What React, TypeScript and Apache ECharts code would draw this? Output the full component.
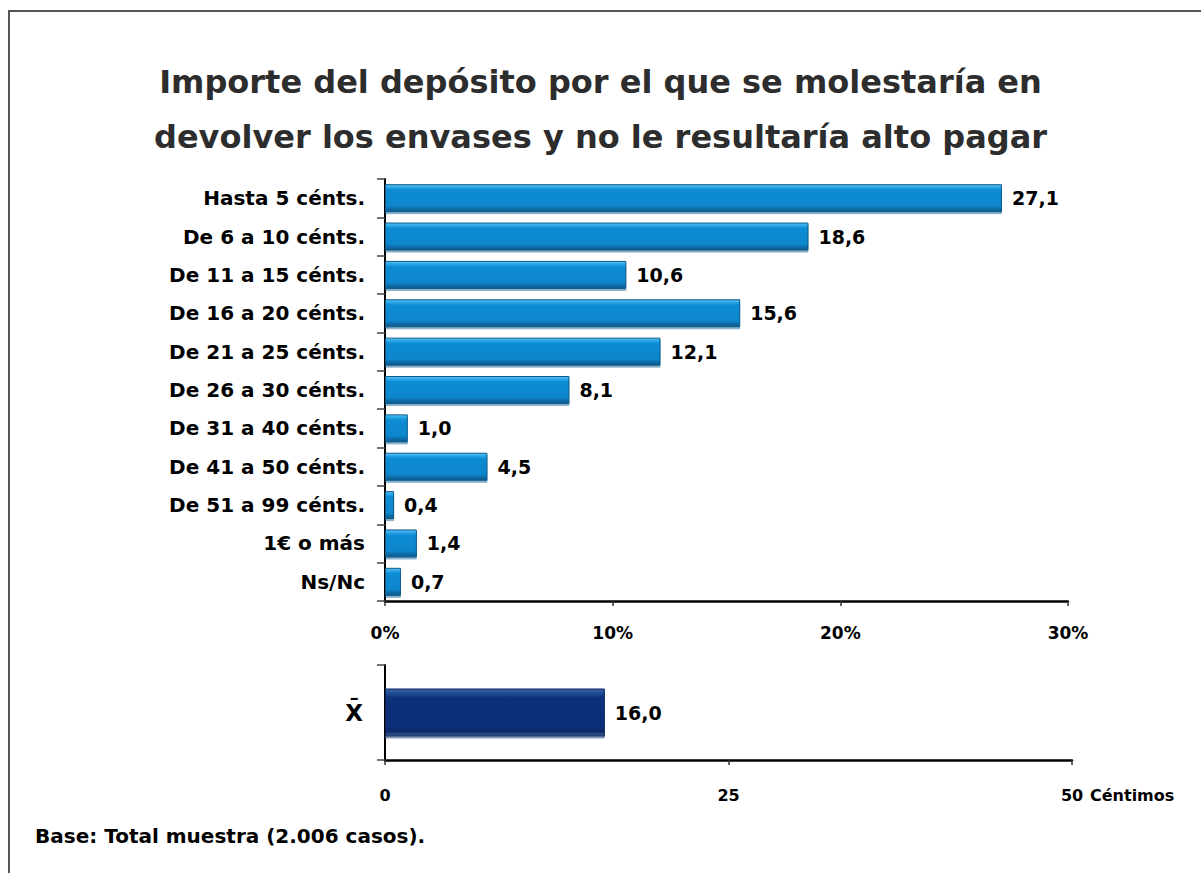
import React, { useEffect, useRef } from "react";
import * as echarts from "echarts";

const categories = [
  "Hasta 5 cénts.",
  "De 6 a 10 cénts.",
  "De 11 a 15 cénts.",
  "De 16 a 20 cénts.",
  "De 21 a 25 cénts.",
  "De 26 a 30 cénts.",
  "De 31 a 40 cénts.",
  "De 41 a 50 cénts.",
  "De 51 a 99 cénts.",
  "1€ o más",
  "Ns/Nc",
];
const percentValues = [27.1, 18.6, 10.6, 15.6, 12.1, 8.1, 1.0, 4.5, 0.4, 1.4, 0.7];
const meanCategory = ["X\u0304"];
const meanValues = [16.0];
const percentTicks = [0, 10, 20, 30];
const centTicks = [0, 25, 50];

const FONT = "DejaVu Sans";

const blueGrad = new echarts.graphic.LinearGradient(0, 0, 0, 1, [
  { offset: 0, color: "#5cc0f2" },
  { offset: 0.1, color: "#2aa6e8" },
  { offset: 0.2, color: "#0b8bd3" },
  { offset: 0.78, color: "#0a86cc" },
  { offset: 0.88, color: "#0a6eab" },
  { offset: 1, color: "#155a86" },
]);
const navyGrad = new echarts.graphic.LinearGradient(0, 0, 0, 1, [
  { offset: 0, color: "#3c64a6" },
  { offset: 0.1, color: "#1d4a92" },
  { offset: 0.2, color: "#0a3079" },
  { offset: 0.8, color: "#082e78" },
  { offset: 0.9, color: "#0a2a6a" },
  { offset: 1, color: "#3f5f8f" },
]);

const fmt = (v: number) => v.toFixed(1).replace(".", ",");

export default function App() {
  const ref = useRef<HTMLDivElement>(null);
  useEffect(() => {
    if (!ref.current) return;
    const chart = echarts.init(ref.current, null, { renderer: "svg" });
    chart.setOption({
      animation: false,
      backgroundColor: "#ffffff",
      title: {
        text: "Importe del depósito por el que se molestaría en\ndevolver los envases y no le resultaría alto pagar",
        left: "center",
        top: 49,
        textStyle: {
          fontFamily: FONT,
          fontWeight: "bold",
          fontSize: 32,
          lineHeight: 55,
          color: "#2d2d2d",
        },
      },
      graphic: [
        {
          type: "rect",
          shape: { x: 9, y: 11, width: 1400, height: 1000 },
          style: { fill: "none", stroke: "#555555", lineWidth: 2 },
          silent: true,
        },
        {
          type: "text",
          left: 35,
          top: 826,
          style: {
            text: "Base: Total muestra (2.006 casos).",
            font: `bold 20px "${FONT}"`,
            fill: "#000",
          },
        },
        {
          type: "text",
          left: 1090,
          top: 787,
          style: {
            text: "Céntimos",
            font: `bold 16px "${FONT}"`,
            fill: "#000",
          },
        },
      ],
      grid: [
        { left: 385, right: 133, top: 179, height: 422, containLabel: false },
        { left: 385, right: 129, top: 665, height: 95, containLabel: false },
      ],
      xAxis: [
        {
          gridIndex: 0,
          type: "value",
          min: percentTicks[0],
          max: percentTicks[percentTicks.length - 1],
          interval: 10,
          axisLine: { show: true, lineStyle: { color: "#000", width: 2.5 } },
          axisTick: { show: true, length: 5, lineStyle: { color: "#333", width: 1.5 } },
          splitLine: { show: false },
          axisLabel: {
            formatter: (v: number) => `${v}%`,
            fontFamily: FONT,
            fontWeight: "bold",
            fontSize: 17,
            color: "#000",
            margin: 23,
          },
        },
        {
          gridIndex: 1,
          type: "value",
          min: centTicks[0],
          max: centTicks[centTicks.length - 1],
          interval: 25,
          axisLine: { show: true, lineStyle: { color: "#000", width: 2.5 } },
          axisTick: { show: true, length: 5, lineStyle: { color: "#333", width: 1.5 } },
          splitLine: { show: false },
          axisLabel: {
            fontFamily: FONT,
            fontWeight: "bold",
            fontSize: 16,
            color: "#000",
            margin: 27,
          },
        },
      ],
      yAxis: [
        {
          gridIndex: 0,
          type: "category",
          data: categories,
          inverse: true,
          axisLine: { show: true, lineStyle: { color: "#000", width: 2 } },
          axisTick: { show: true, length: 8, lineStyle: { color: "#444", width: 1.5 } },
          axisLabel: {
            fontFamily: FONT,
            fontWeight: "bold",
            fontSize: 20,
            color: "#000",
            margin: 20,
          },
        },
        {
          gridIndex: 1,
          type: "category",
          data: meanCategory,
          axisLine: { show: true, lineStyle: { color: "#000", width: 2 } },
          axisTick: { show: true, length: 8, lineStyle: { color: "#444", width: 1.5 } },
          axisLabel: {
            fontFamily: FONT,
            fontWeight: "bold",
            fontSize: 23,
            color: "#000",
            margin: 22,
          },
        },
      ],
      series: [
        {
          type: "bar",
          xAxisIndex: 0,
          yAxisIndex: 0,
          data: percentValues,
          barWidth: 28,
          itemStyle: {
            color: blueGrad,
            borderColor: "#0d5b8c",
            borderWidth: 1,
            shadowColor: "rgba(40,110,160,0.55)",
            shadowOffsetY: 2,
            shadowBlur: 0,
          },
          label: {
            show: true,
            position: "right",
            distance: 10,
            formatter: (p: any) => fmt(p.value),
            fontFamily: FONT,
            fontWeight: "bold",
            fontSize: 19,
            color: "#000",
          },
        },
        {
          type: "bar",
          xAxisIndex: 1,
          yAxisIndex: 1,
          data: meanValues,
          barWidth: 48,
          itemStyle: {
            color: navyGrad,
            borderColor: "#0a2660",
            borderWidth: 1,
            shadowColor: "rgba(60,90,140,0.6)",
            shadowOffsetY: 2,
            shadowBlur: 0,
          },
          label: {
            show: true,
            position: "right",
            distance: 10,
            formatter: (p: any) => fmt(p.value),
            fontFamily: FONT,
            fontWeight: "bold",
            fontSize: 19,
            color: "#000",
          },
        },
      ],
    });
    return () => chart.dispose();
  }, []);
  return (
    <div
      ref={ref}
      style={{ position: "fixed", left: 0, top: 0, width: 1201, height: 873 }}
    />
  );
}
